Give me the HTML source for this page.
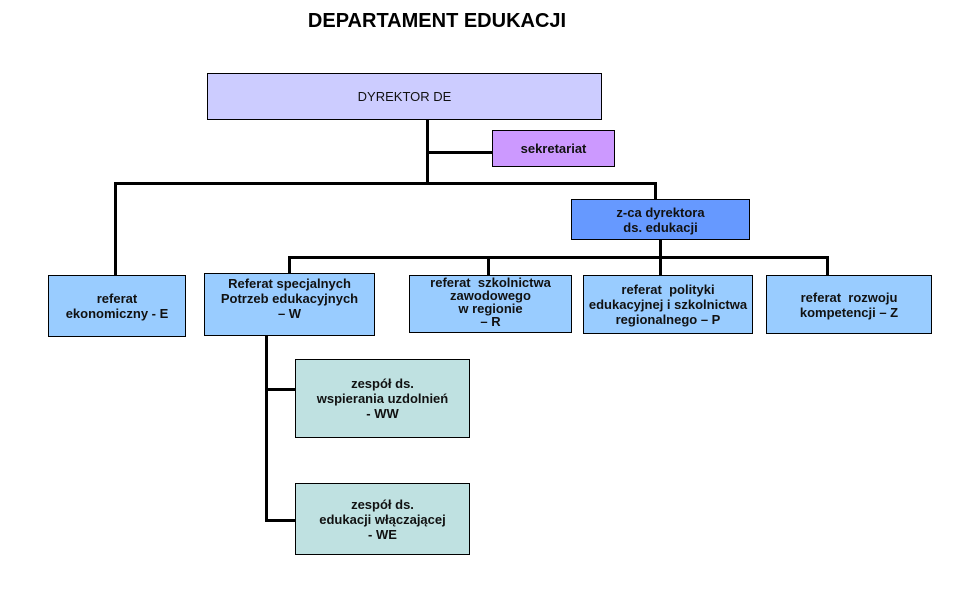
<!DOCTYPE html>
<html><head><meta charset="utf-8"><style>
body{margin:0;width:959px;height:592px;background:#fff;position:relative;overflow:hidden;font-family:"Liberation Sans",Arial,sans-serif;}
.b{position:absolute;border:1.5px solid #000;box-sizing:border-box;display:flex;align-items:center;justify-content:center;text-align:center;font-weight:bold;font-size:13px;line-height:15px;color:#111;}
.l{position:absolute;background:#000;}
.t{position:absolute;left:0;width:874px;top:10px;text-align:center;font-weight:bold;font-size:20px;}
</style></head><body>
<div class="t">DEPARTAMENT EDUKACJI</div>
<div class="l" style="left:426px;top:119px;width:3px;height:66px"></div>
<div class="l" style="left:426px;top:151px;width:67px;height:3px"></div>
<div class="l" style="left:114px;top:182px;width:543px;height:3px"></div>
<div class="l" style="left:114px;top:182px;width:3px;height:93px"></div>
<div class="l" style="left:654px;top:182px;width:3px;height:17px"></div>
<div class="l" style="left:659px;top:239px;width:3px;height:36px"></div>
<div class="l" style="left:288px;top:256px;width:541px;height:3px"></div>
<div class="l" style="left:288px;top:256px;width:3px;height:17px"></div>
<div class="l" style="left:487px;top:256px;width:3px;height:19px"></div>
<div class="l" style="left:826px;top:256px;width:3px;height:19px"></div>
<div class="l" style="left:265px;top:335px;width:3px;height:187px"></div>
<div class="l" style="left:265px;top:388px;width:31px;height:3px"></div>
<div class="l" style="left:265px;top:519px;width:31px;height:3px"></div>
<div class="b" style="left:207px;top:73px;width:395px;height:47px;background:#ccccff;font-weight:normal;font-size:13px">DYREKTOR DE</div>
<div class="b" style="left:492px;top:130px;width:123px;height:37px;background:#cc99ff">sekretariat</div>
<div class="b" style="left:571px;top:199px;width:179px;height:41px;background:#6699ff">z-ca dyrektora<br>ds. edukacji</div>
<div class="b" style="left:48px;top:275px;width:138px;height:62px;background:#99ccff">referat<br>ekonomiczny - E</div>
<div class="b" style="left:204px;top:273px;width:171px;height:63px;background:#99ccff;align-items:flex-start;padding-top:2px">Referat specjalnych<br>Potrzeb edukacyjnych<br>– W</div>
<div class="b" style="left:409px;top:275px;width:163px;height:58px;background:#99ccff;align-items:flex-start;padding-top:0;line-height:13px">referat &nbsp;szkolnictwa<br>zawodowego<br>w regionie<br>– R</div>
<div class="b" style="left:583px;top:275px;width:170px;height:59px;background:#99ccff">referat &nbsp;polityki<br>edukacyjnej i szkolnictwa<br>regionalnego – P</div>
<div class="b" style="left:766px;top:275px;width:166px;height:59px;background:#99ccff">referat &nbsp;rozwoju<br>kompetencji – Z</div>
<div class="b" style="left:295px;top:359px;width:175px;height:79px;background:#bfe1e1">zespół ds.<br>wspierania uzdolnień<br>- WW</div>
<div class="b" style="left:295px;top:483px;width:175px;height:72px;background:#bfe1e1">zespół ds.<br>edukacji włączającej<br>- WE</div>
</body></html>
